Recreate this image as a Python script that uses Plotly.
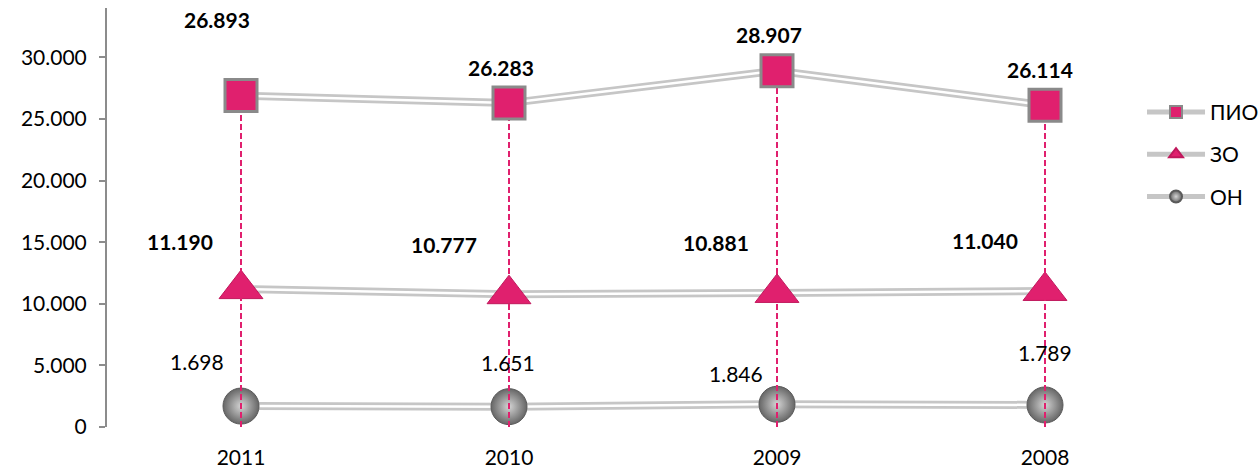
import plotly.graph_objects as go

years = ["2011", "2010", "2009", "2008"]
pio = [26893, 26283, 28907, 26114]
zo = [11190, 10777, 10881, 11040]
on = [1698, 1651, 1846, 1789]
series_names = ["ПИО", "ЗО", "ОН"]

# label offsets (pixels) per point
pio_shift = [(-24, 76), (-8, 36), (-8, 36), (-5, 36)]
zo_shift = [(-61, 48), (-65, 50), (-61, 50), (-60, 50)]
on_shift = [(-44, 45), (-1, 44), (-41, 31), (0, 52)]

def fmt(v):
    return f"{v:,}".replace(",", ".")

PINK = "#e0206e"
GREY_LINE = "#c6c6c6"
FONT = "Lato, Open Sans, sans-serif"
FS = 21

fig = go.Figure()

def double_line(y):
    fig.add_trace(go.Scatter(x=years, y=y, mode="lines", line=dict(color=GREY_LINE, width=8),
                             showlegend=False, hoverinfo="skip"))
    fig.add_trace(go.Scatter(x=years, y=y, mode="lines", line=dict(color="white", width=2.5),
                             showlegend=False, hoverinfo="skip"))

for y in (pio, zo, on):
    double_line(y)

on_marker = dict(symbol="circle", size=36, color="#666666",
                 gradient=dict(type="radial", color="#d4d4d4"),
                 line=dict(color="#5a5a5a", width=1))
zo_marker = dict(symbol="triangle-up", size=38, color=PINK, line=dict(color="#c0185c", width=1))
pio_marker = dict(symbol="square", size=32, color=PINK, line=dict(color="#8a8a8a", width=3))

# ОН spheres
fig.add_trace(go.Scatter(x=years, y=on, mode="markers", marker=on_marker, showlegend=False))
# ЗО triangles
fig.add_trace(go.Scatter(x=years, y=zo, mode="markers", marker=zo_marker, showlegend=False))
# drop lines
for i, yr in enumerate(years):
    fig.add_trace(go.Scatter(x=[yr, yr], y=[0, pio[i]], mode="lines",
                             line=dict(color=PINK, width=2, dash="6px,3px"),
                             showlegend=False, hoverinfo="skip"))
# ПИО squares
fig.add_trace(go.Scatter(x=years, y=pio, mode="markers", marker=pio_marker, showlegend=False))

# legend entries
for name, mk in zip(series_names, (pio_marker, zo_marker, on_marker)):
    fig.add_trace(go.Scatter(x=[None], y=[None], mode="lines+markers", name=name,
                             legendgroup=name, marker=mk,
                             line=dict(color=GREY_LINE, width=7)))

annotations = []
for vals, shifts, bold in ((pio, pio_shift, True), (zo, zo_shift, True), (on, on_shift, False)):
    for i, (v, (dx, dy)) in enumerate(zip(vals, shifts)):
        t = fmt(v)
        annotations.append(dict(x=i, y=v, xref="x", yref="y",
                                text=f"<b>{t}</b>" if bold else t, showarrow=False,
                                xshift=dx, yshift=dy,
                                font=dict(size=FS, color="black", family=FONT)))

fig.update_layout(
    width=1258, height=468,
    margin=dict(l=107, r=79, t=8, b=41, autoexpand=False),
    paper_bgcolor="white", plot_bgcolor="white",
    separators=",.",
    font=dict(family=FONT, size=FS, color="black"),
    annotations=annotations,
    showlegend=True,
    legend=dict(x=0.9655, y=0.80, xanchor="left", yanchor="top", itemsizing="constant",
                itemwidth=58, font=dict(size=FS), tracegroupgap=12,
                bgcolor="rgba(0,0,0,0)"),
    xaxis=dict(type="category", range=[-0.5, 3.5], showline=False, showgrid=False,
               zeroline=False, ticks="", ticklabelstandoff=16, automargin=False,
               tickfont=dict(size=FS)),
    yaxis=dict(range=[0, 34000], tickvals=[0, 5000, 10000, 15000, 20000, 25000, 30000],
               tickformat=",d", showline=True, linecolor="#8c8c8c", linewidth=2,
               ticks="outside", tickcolor="#8c8c8c", ticklen=6, tickwidth=1.5,
               showgrid=False, zeroline=False, ticklabelstandoff=8, automargin=False,
               tickfont=dict(size=FS)),
)

fig.write_html("out.html", config={"displayModeBar": False},
               post_script="document.body.style.margin='0';document.body.style.overflow='hidden';")
